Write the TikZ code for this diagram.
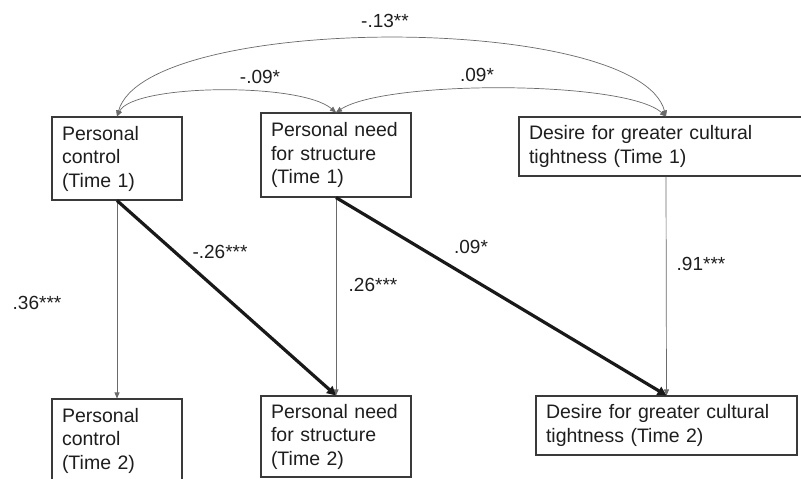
\documentclass[tikz,border=0pt]{standalone}
\usepackage{fontspec}
\setmainfont{Liberation Sans}
\usetikzlibrary{arrows.meta}
\definecolor{boxline}{HTML}{3A3A3A}
\definecolor{thinline}{HTML}{6A6A6A}
\definecolor{ink}{HTML}{1E1E1E}
\newcommand\boxfontsetup{\fontsize{19.5}{23.5}\selectfont\spaceskip=7pt plus 2pt\relax}
\tikzset{
  vbox/.style={draw=boxline, line width=1.1pt, rectangle, align=left, inner xsep=10pt, inner ysep=0pt,
    text=ink, font=\boxfontsetup},
  coef/.style={text=ink, font=\fontsize{19}{23}\selectfont, inner sep=0pt},
  thinpath/.style={draw=thinline, line width=0.7pt, -{Triangle[length=6pt,width=5pt]}},
  corr/.style={draw=thinline, line width=0.7pt, {Triangle[length=6pt,width=5pt]}-{Triangle[length=6pt,width=5pt]}},
  thickpath/.style={draw=black!90, line width=3.2pt, -{Triangle[length=9pt,width=9pt]}}
}
\begin{document}
\begin{tikzpicture}[x=1pt,y=-1pt]
\useasboundingbox[fill=white] (0,0) rectangle (801,479);
% Time 1 boxes
\node[vbox, minimum width=130pt, minimum height=83pt, text width=110pt] (A1) at (117,158.5) {Personal\\control\\(Time 1)};
\node[vbox, minimum width=150pt, minimum height=84pt, text width=130pt] (B1) at (336,155) {Personal need\\for structure\\(Time 1)};
\node[vbox, minimum width=294pt, minimum height=59pt, text width=274pt] (C1) at (666,146.5) {Desire for greater cultural\\tightness (Time 1)};
% Time 2 boxes
\node[vbox, minimum width=130pt, minimum height=83pt, text width=110pt] (A2) at (117,440.5) {Personal\\control\\(Time 2)};
\node[vbox, minimum width=150pt, minimum height=81pt, text width=130pt] (B2) at (336,436.5) {Personal need\\for structure\\(Time 2)};
\node[vbox, minimum width=261pt, minimum height=59pt, text width=241pt] (C2) at (666.5,425.5) {Desire for greater cultural\\tightness (Time 2)};
% correlations
\draw[corr] (A1.north) .. controls +(29,-104) and +(-28,-104) .. (C1.north);
\draw[corr] (A1.north) .. controls (133,84) and (300,82) .. (B1.north);
\draw[corr] (B1.north) .. controls (385,80) and (625,80) .. (C1.north);
% stability paths
\draw[thinpath] (A1.south) -- (A2.north);
\draw[thinpath] (B1.south) -- (B2.north);
\draw[thinpath] (C1.south) -- (C2.north);
% cross-lagged paths
\draw[thickpath] (A1.south) -- (B2.north);
\draw[thickpath] (B1.south) -- (C2.north);
% coefficients
\node[coef] (k13) at (385,21) {-.13**};
\node[coef] (k09a) at (260,77) {-.09*};
\node[coef] (k09b) at (477,75) {.09*};
\node[coef] (k36) at (37,303) {.36***};
\node[coef] (k26a) at (220,252) {-.26***};
\node[coef] (k26b) at (373,285) {.26***};
\node[coef] (k09c) at (471,247) {.09*};
\node[coef] (k91) at (701,264) {.91***};
\end{tikzpicture}
\end{document}
